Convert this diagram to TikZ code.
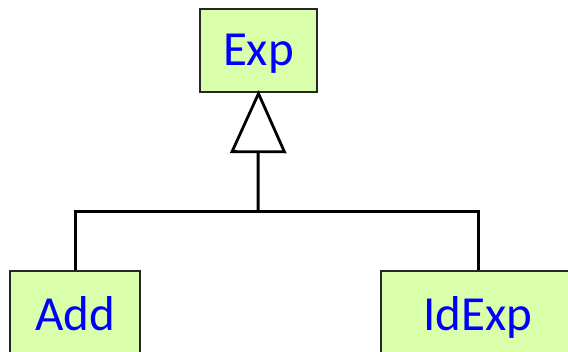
\documentclass[tikz,border=0pt]{standalone}
\usepackage{fontspec}
\setmainfont{Carlito}
\usetikzlibrary{arrows.meta}
\definecolor{boxfill}{RGB}{218,255,170}
\definecolor{txtblue}{RGB}{0,0,255}
\tikzset{
  classbox/.style={draw=black!85, line width=1.3pt, fill=boxfill, inner sep=0pt,
    font=\fontsize{49}{51}\selectfont, text=txtblue},
  conn/.style={line width=3pt, line cap=butt},
}
\begin{document}
\begin{tikzpicture}[x=1pt,y=1pt]
\useasboundingbox (0,0) rectangle (568,352);
\clip (0,0) rectangle (568,352);
\node[classbox, minimum width=117pt, text height=57pt, text depth=26pt] (exp) at (258.5,301.5) {Exp};
\node[classbox, minimum width=130pt, text height=60pt, text depth=29pt] (add) at (75,36.5) {Add};
\node[classbox, minimum width=194pt, text height=60pt, text depth=29pt] (idexp) at (478,36.5) {IdExp};
\coordinate (j) at (258,140);
\draw[conn] (add.north) |- (j) -| (idexp.north);
\draw[conn, shorten >=-2.5pt, -{Triangle[open, length=63pt, width=56pt, line width=2.8pt]}] (j) -- (exp.south);
\end{tikzpicture}
\end{document}
